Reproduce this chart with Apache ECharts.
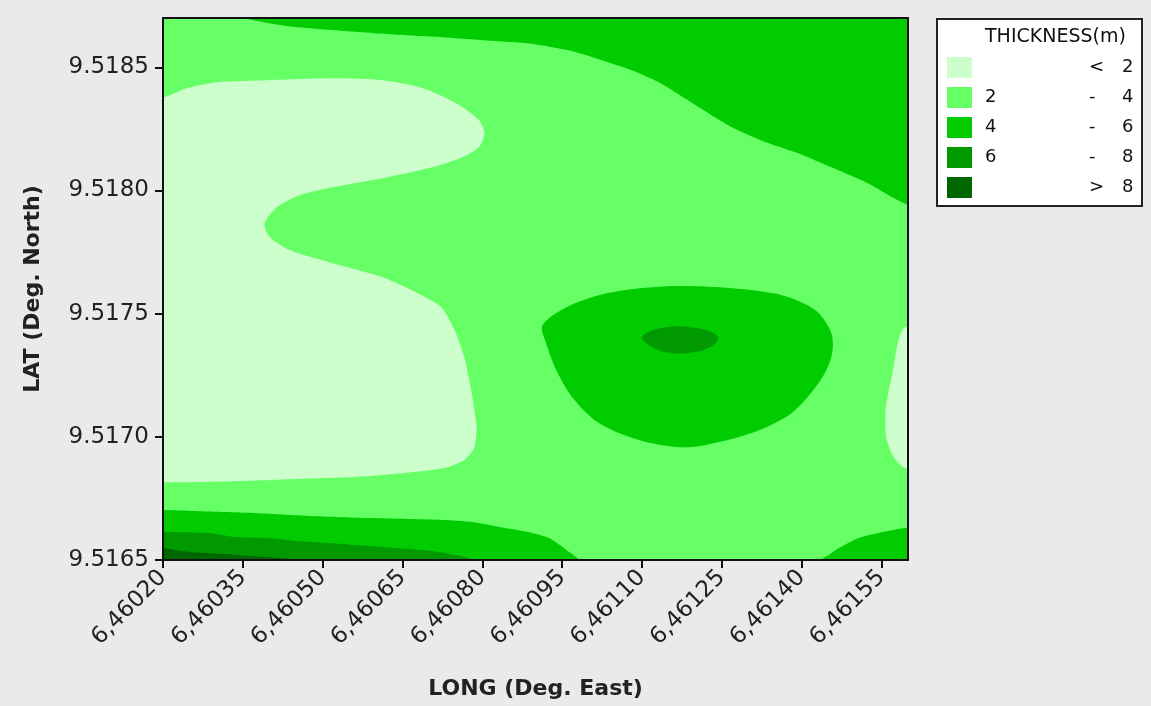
<!DOCTYPE html>
<html>
<head>
<meta charset="utf-8">
<title>Thickness contour</title>
<script src="https://cdn.jsdelivr.net/npm/echarts@6/dist/echarts.min.js"></script>
<style>
  html, body { margin: 0; padding: 0; background: #eaeaea; }
  #main { width: 1151px; height: 706px; }
</style>
</head>
<body>
<div id="main"></div>
<script>
// axis ranges and tick labels
const lonRange = [6.4602, 6.4616]
const latRange = [9.5165, 9.5187]
const lonTicks = [6.46020, 6.46035, 6.46050, 6.46065, 6.46080, 6.46095, 6.46110, 6.46125, 6.46140, 6.46155]
const latTicks = [9.5165, 9.5170, 9.5175, 9.5180, 9.5185]

// thickness classes (legend)
const classNames = ['< 2', '2 - 4', '4 - 6', '6 - 8', '> 8']
const classLabels = [['', '<', '2'], ['2', '-', '4'], ['4', '-', '6'], ['6', '-', '8'], ['', '>', '8']]
const classColors = ['#ccffcc', '#66ff66', '#00cc00', '#009900', '#006600']

// contour regions, [long, lat] boundary points
const base2to4 = [[6.4601, 9.5164], [6.4617, 9.5164], [6.4617, 9.5189], [6.4601, 9.5189]]

const westLow = [
  [6.4601, 9.518378], [6.4602, 9.518378], [6.460245, 9.518415], [6.460301, 9.518439], [6.460395, 9.518447],
  [6.460519, 9.518455], [6.460613, 9.518447], [6.460688, 9.518415], [6.460751, 9.518354], [6.460794, 9.518285],
  [6.460804, 9.518232], [6.460794, 9.518176], [6.460763, 9.518135], [6.460706, 9.518094], [6.460613, 9.518050],
  [6.460519, 9.518013], [6.460457, 9.517981], [6.460414, 9.517932], [6.460391, 9.517867], [6.460401, 9.517810],
  [6.460438, 9.517758], [6.460519, 9.517705], [6.460613, 9.517648], [6.460686, 9.517575], [6.460723, 9.517526],
  [6.460748, 9.517433], [6.460766, 9.517324], [6.460779, 9.517190], [6.460789, 9.517040], [6.460785, 9.516958],
  [6.460766, 9.516906], [6.460729, 9.516873], [6.460654, 9.516853], [6.460560, 9.516837], [6.460453, 9.516829],
  [6.460335, 9.516820], [6.460241, 9.516816], [6.4602, 9.516816], [6.4601, 9.516816]
]
const eastLow = [
  [6.4617, 9.517460], [6.461595, 9.517445], [6.461582, 9.517393], [6.461573, 9.517283], [6.461563, 9.517178],
  [6.461558, 9.517109], [6.461559, 9.516999], [6.461573, 9.516918], [6.461595, 9.516873], [6.4617, 9.516860]
]
const northMid = [
  [6.460300, 9.5189], [6.460330, 9.518720], [6.460425, 9.518670], [6.460526, 9.518650], [6.460626, 9.518634],
  [6.460725, 9.518622], [6.460800, 9.518610], [6.460888, 9.518597], [6.460963, 9.518569], [6.461019, 9.518533],
  [6.461076, 9.518492], [6.461132, 9.518439], [6.461207, 9.518338], [6.461269, 9.518257], [6.461333, 9.518196],
  [6.461394, 9.518151], [6.461456, 9.518094], [6.461520, 9.518034], [6.461597, 9.517944], [6.4617, 9.517900],
  [6.4617, 9.5189]
]
const centreMid = [
  [6.460913, 9.517453], [6.460958, 9.517526], [6.461019, 9.517575], [6.461081, 9.517599], [6.461169, 9.517612],
  [6.461269, 9.517603], [6.461363, 9.517575], [6.461426, 9.517514], [6.461456, 9.517421], [6.461456, 9.517324],
  [6.461432, 9.517218], [6.461381, 9.517096], [6.461306, 9.517015], [6.461220, 9.516967], [6.461169, 9.516958],
  [6.461094, 9.516987], [6.461019, 9.517056], [6.460969, 9.517161], [6.460939, 9.517271], [6.460920, 9.517380]
]
const southWestMid = [
  [6.4601, 9.516703], [6.4602, 9.516703], [6.460256, 9.516699], [6.460369, 9.516691], [6.460476, 9.516679],
  [6.460594, 9.516670], [6.460725, 9.516662], [6.460781, 9.516654], [6.460832, 9.516634], [6.460894, 9.516610],
  [6.460926, 9.516589], [6.460958, 9.516541], [6.460982, 9.5165], [6.460995, 9.5164], [6.4601, 9.5164]
]
const southEastMid = [
  [6.461430, 9.5164], [6.461438, 9.5165], [6.461451, 9.516520], [6.461464, 9.516541], [6.461507, 9.516589],
  [6.461544, 9.516610], [6.461595, 9.516630], [6.4617, 9.516630], [6.4617, 9.5164]
]
const centreHigh = [
  [6.461100, 9.517405], [6.461126, 9.517437], [6.461175, 9.517449], [6.461226, 9.517429], [6.461244, 9.517401],
  [6.461231, 9.517368], [6.461201, 9.517344], [6.461151, 9.517340], [6.461113, 9.517372]
]
const southHigh = [
  [6.4601, 9.516614], [6.4602, 9.516614], [6.460283, 9.516610], [6.460339, 9.516593], [6.460397, 9.516589],
  [6.460453, 9.516577], [6.460508, 9.516569], [6.460613, 9.516553], [6.460706, 9.516537], [6.460751, 9.516520],
  [6.460781, 9.5165], [6.460790, 9.5164], [6.4601, 9.5164]
]
const southTop = [
  [6.4601, 9.516549], [6.4602, 9.516549], [6.460232, 9.516537], [6.460284, 9.516528], [6.460341, 9.516520],
  [6.460395, 9.516512], [6.460444, 9.516504], [6.460457, 9.5165], [6.460460, 9.5164], [6.4601, 9.5164]
]

// drawing order: lower classes first
const regions = [
  { cls: 1, points: base2to4, smooth: 0 },
  { cls: 0, points: westLow, smooth: 0.25 },
  { cls: 0, points: eastLow, smooth: 0.25 },
  { cls: 2, points: northMid, smooth: 0.2 },
  { cls: 2, points: centreMid, smooth: 0.3 },
  { cls: 2, points: southWestMid, smooth: 0.2 },
  { cls: 2, points: southEastMid, smooth: 0.2 },
  { cls: 3, points: centreHigh, smooth: 0.35 },
  { cls: 3, points: southHigh, smooth: 0.2 },
  { cls: 4, points: southTop, smooth: 0.2 }
]

const fontFamily = '"DejaVu Sans", Verdana, sans-serif'

function regionSeries(region) {
  return {
    type: 'custom',
    name: classNames[region.cls],
    coordinateSystem: 'cartesian2d',
    clip: true,
    silent: true,
    itemStyle: { color: classColors[region.cls] },
    data: region.points,
    renderItem: function (params, api) {
      if (params.dataIndex !== 0) return
      const pts = region.points.map(function (p) { return api.coord(p) })
      return {
        type: 'polygon',
        shape: { points: pts, smooth: region.smooth },
        style: { fill: api.visual('color') }
      }
    }
  }
}

const chart = echarts.init(document.getElementById('main'))

const legendFont = { fontSize: 18, fontFamily: fontFamily, color: '#111', lineHeight: 20 }
const legendRich = {
  p: Object.assign({ width: 8 }, legendFont),
  a: Object.assign({ width: 104 }, legendFont),
  b: Object.assign({ width: 33 }, legendFont),
  c: Object.assign({ width: 12 }, legendFont)
}

chart.setOption({
  backgroundColor: '#eaeaea',
  animation: false,
  grid: {
    left: 163, top: 18, right: 243, bottom: 146,
    outerBoundsMode: 'none'
  },
  graphic: [{
    type: 'text',
    left: 985,
    top: 28,
    z: 100,
    style: { text: 'THICKNESS(m)', fontSize: 19, fontFamily: fontFamily, fill: '#111' }
  }],
  legend: {
    orient: 'vertical',
    left: 937,
    top: 19,
    padding: [38, 8, 8, 10],
    backgroundColor: '#fff',
    borderColor: '#222',
    borderWidth: 2,
    borderRadius: 0,
    icon: 'rect',
    itemWidth: 25,
    itemHeight: 21,
    itemGap: 9,
    itemStyle: { borderWidth: 0 },
    selectedMode: false,
    data: classNames,
    formatter: function (name) {
      const l = classLabels[classNames.indexOf(name)]
      return '{p| }{a|' + l[0] + '}{b|' + l[1] + '}{c|' + l[2] + '}'
    },
    textStyle: { rich: legendRich }
  },
  xAxis: [{
    type: 'value',
    min: lonRange[0],
    max: lonRange[1],
    name: 'LONG (Deg. East)',
    nameLocation: 'middle',
    nameGap: 118,
    nameTextStyle: { fontSize: 22, fontWeight: 'bold', fontFamily: fontFamily, color: '#222' },
    z: 10,
    splitLine: { show: false },
    axisLine: { lineStyle: { color: '#111', width: 2 } },
    axisTick: { length: 8, customValues: lonTicks, lineStyle: { color: '#111', width: 2 } },
    axisLabel: {
      customValues: lonTicks,
      rotate: 45,
      margin: 14,
      fontSize: 23,
      fontFamily: fontFamily,
      color: '#222',
      formatter: function (v) { return v.toFixed(5).replace('.', ',') }
    }
  }, {
    type: 'value',
    position: 'top',
    min: lonRange[0],
    max: lonRange[1],
    z: 10,
    splitLine: { show: false },
    axisTick: { show: false },
    axisLabel: { show: false },
    axisLine: { show: true, lineStyle: { color: '#111', width: 2 } }
  }],
  yAxis: [{
    type: 'value',
    min: latRange[0],
    max: latRange[1],
    name: 'LAT (Deg. North)',
    nameLocation: 'middle',
    nameRotate: 90,
    nameGap: 119,
    nameTextStyle: { fontSize: 22, fontWeight: 'bold', fontFamily: fontFamily, color: '#222' },
    z: 10,
    splitLine: { show: false },
    axisLine: { show: true, lineStyle: { color: '#111', width: 2 } },
    axisTick: { show: true, length: 8, customValues: latTicks, lineStyle: { color: '#111', width: 2 } },
    axisLabel: {
      customValues: latTicks,
      margin: 14,
      fontSize: 23,
      fontFamily: fontFamily,
      color: '#222',
      formatter: function (v) { return v.toFixed(4) }
    }
  }, {
    type: 'value',
    position: 'right',
    min: latRange[0],
    max: latRange[1],
    z: 10,
    splitLine: { show: false },
    axisTick: { show: false },
    axisLabel: { show: false },
    axisLine: { show: true, lineStyle: { color: '#111', width: 2 } }
  }],
  series: regions.map(regionSeries)
})
</script>
</body>
</html>
